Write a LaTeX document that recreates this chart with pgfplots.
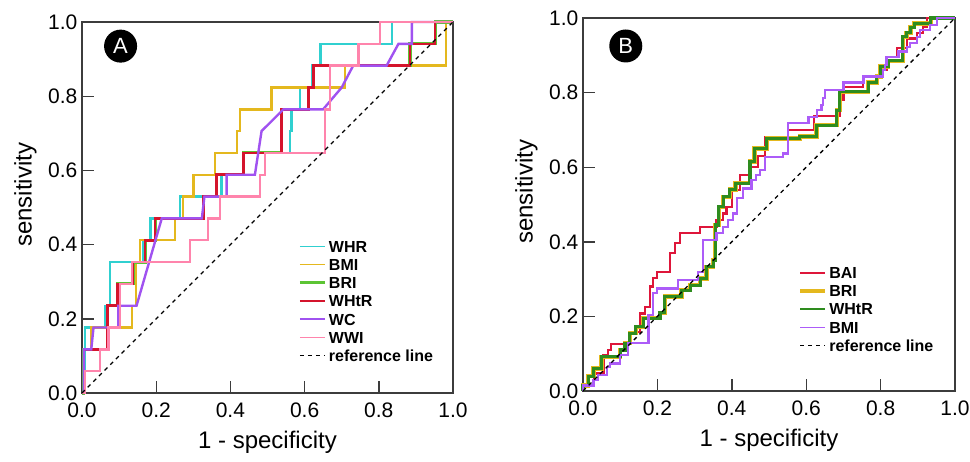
\documentclass[border=0pt]{standalone}
\usepackage{fontspec}
\setmainfont{Liberation Sans}
\usepackage{pgfplots}
\pgfplotsset{compat=1.18}

\definecolor{cWHR}{RGB}{48,208,208}
\definecolor{cBMI}{RGB}{228,184,30}
\definecolor{cBRI}{RGB}{92,196,52}
\definecolor{cWHtR}{RGB}{212,20,44}
\definecolor{cWC}{RGB}{160,82,240}
\definecolor{cWWI}{RGB}{255,132,172}
\definecolor{bBAI}{RGB}{222,22,58}
\definecolor{bBRI}{RGB}{228,184,30}
\definecolor{bWHtR}{RGB}{46,140,30}
\definecolor{bBMI}{RGB}{172,92,248}
\definecolor{frame}{RGB}{60,60,60}

\pgfplotsset{
  rocaxis/.style={
    scale only axis, xmin=0, xmax=1, ymin=0, ymax=1,
    clip=false,
    axis line style={draw=frame, line width=1.4pt},
    xtick={0,0.2,0.4,0.6,0.8,1}, ytick={0,0.2,0.4,0.6,0.8,1},
    xticklabels={0.0,0.2,0.4,0.6,0.8,1.0},
    yticklabels={0.0,0.2,0.4,0.6,0.8,1.0},
    tick align=inside, xtick pos=bottom, ytick pos=left,
    major tick length=12pt,
    every tick/.style={draw=frame, line width=1.4pt},
    tick label style={font=\fontsize{21}{25}\selectfont},
    xticklabel style={anchor=north, inner sep=0pt, yshift=-10pt},
    yticklabel style={anchor=east, inner sep=0pt, xshift=-4.5pt},
    xlabel={1 - specificity}, ylabel={sensitivity},
    label style={font=\fontsize{24}{28}\selectfont},
    xlabel style={at={(axis description cs:0.5,-0.149)}, anchor=base},
    ylabel style={at={(axis description cs:-0.1356,0.534)}, anchor=base},
    legend cell align=left,
    legend image code/.code={\draw[##1] (0pt,0pt) -- (25pt,0pt);},
    every legend image post/.style={line width=1.6pt},
    legend style={draw=none, fill=none, inner sep=0pt, row sep=0pt,
      column sep=2pt, font=\fontsize{16}{18}\bfseries\selectfont,
      nodes={inner xsep=0.5pt, inner ysep=3.3pt, text height=11.6pt, text depth=0pt}},
  },
  refline/.style={black, line width=1.3pt, dash pattern=on 4pt off 4pt},
  roc/.style={line width=2.4pt, line join=miter},
}

\begin{document}
\begin{tikzpicture}
\useasboundingbox (0pt,0pt) rectangle (970pt,-461pt);

% ---------------- panel A ----------------
\begin{axis}[rocaxis,
  at={(82pt,-393pt)}, anchor=south west, width=371pt, height=371pt,
  legend style={at={(axis cs:0.583,0.42)}, anchor=north west},
]
% WHR
\addplot[roc, cWHR] coordinates {
 (0,0) (0.008,0) (0.008,0.1765) (0.062,0.1765) (0.062,0.2353) (0.075,0.2353)
 (0.075,0.3529) (0.165,0.3529) (0.165,0.4118) (0.185,0.4118) (0.185,0.4706)
 (0.264,0.4706) (0.264,0.5294) (0.376,0.5294) (0.376,0.5882) (0.435,0.5882)
 (0.435,0.6471) (0.56,0.6471) (0.56,0.7059) (0.565,0.7059) (0.565,0.7647)
 (0.588,0.7647) (0.588,0.8235) (0.62,0.8235) (0.62,0.8824) (0.643,0.8824)
 (0.643,0.9412) (0.835,0.9412) (0.835,1) (1,1)};
% BMI
\addplot[roc, cBMI] coordinates {
 (0,0) (0.005,0) (0.005,0.1176) (0.025,0.1176) (0.025,0.1765) (0.134,0.1765)
 (0.134,0.2353) (0.145,0.2353) (0.145,0.3529) (0.156,0.3529) (0.156,0.4118)
 (0.25,0.4118) (0.25,0.4706) (0.273,0.4706) (0.273,0.5294) (0.30,0.5294)
 (0.30,0.5882) (0.358,0.5882) (0.358,0.6471) (0.417,0.6471) (0.417,0.7059)
 (0.426,0.7059) (0.426,0.7647) (0.511,0.7647) (0.511,0.8235) (0.709,0.8235)
 (0.709,0.8824) (0.981,0.8824) (0.981,1) (1,1)};
% BRI
\addplot[roc, cBRI, line width=3.1pt, legend image post style={line width=3pt}] coordinates {
 (0,0) (0.005,0) (0.005,0.1176) (0.068,0.1176) (0.068,0.2353) (0.095,0.2353)
 (0.095,0.2941) (0.138,0.2941) (0.138,0.3529) (0.17,0.3529) (0.17,0.4118)
 (0.197,0.4118) (0.197,0.4706) (0.327,0.4706) (0.327,0.5294) (0.363,0.5294)
 (0.363,0.5882) (0.435,0.5882) (0.435,0.6471) (0.538,0.6471) (0.538,0.7647)
 (0.61,0.7647) (0.61,0.8235) (0.624,0.8235) (0.624,0.8824) (0.884,0.8824)
 (0.884,0.9412) (0.952,0.9412) (0.952,1) (1,1)};
% WHtR
\addplot[roc, cWHtR, line width=2.6pt] coordinates {
 (0,0) (0.005,0) (0.005,0.1176) (0.068,0.1176) (0.068,0.2353) (0.095,0.2353)
 (0.095,0.2941) (0.138,0.2941) (0.138,0.3529) (0.17,0.3529) (0.17,0.4118)
 (0.197,0.4118) (0.197,0.4706) (0.327,0.4706) (0.327,0.5294) (0.363,0.5294)
 (0.363,0.5882) (0.435,0.5882) (0.435,0.6471) (0.538,0.6471) (0.538,0.7647)
 (0.61,0.7647) (0.61,0.8235) (0.624,0.8235) (0.624,0.8824) (0.884,0.8824)
 (0.884,0.9412) (0.952,0.9412) (0.952,1) (1,1)};
% WC
\addplot[roc, cWC] coordinates {
 (0,0) (0.005,0) (0.005,0.1176) (0.025,0.1176) (0.031,0.1765) (0.098,0.1765)
 (0.098,0.2353) (0.147,0.2353) (0.215,0.4706) (0.323,0.4706) (0.33,0.5294)
 (0.39,0.5294) (0.39,0.5882) (0.466,0.5882) (0.484,0.7059) (0.543,0.7647)
 (0.65,0.7647) (0.70,0.8235) (0.731,0.8824) (0.821,0.8824) (0.853,0.9412)
 (0.889,0.9412) (0.889,1) (1,1)};
% WWI
\addplot[roc, cWWI] coordinates {
 (0,0) (0.008,0) (0.008,0.0588) (0.0485,0.0588) (0.0485,0.1176) (0.071,0.1176)
 (0.071,0.1765) (0.102,0.1765) (0.102,0.2941) (0.134,0.2941) (0.134,0.3529)
 (0.291,0.3529) (0.291,0.4118) (0.34,0.4118) (0.34,0.4706) (0.372,0.4706)
 (0.372,0.5294) (0.48,0.5294) (0.48,0.5882) (0.494,0.5882) (0.494,0.6471)
 (0.655,0.6471) (0.655,0.7647) (0.668,0.7647) (0.668,0.8824) (0.745,0.8824)
 (0.745,0.9412) (0.803,0.9412) (0.803,1) (1,1)};
\addplot[refline, legend image post style={line width=1.3pt}] coordinates {(0,0) (1,1)};
\legend{WHR,BMI,BRI,WHtR,WC,WWI,reference line}
\node[circle, fill=black, minimum size=33pt, inner sep=0pt, text=white,
  font=\fontsize{22}{26}\selectfont] at (axis cs:0.104,0.935) {A};
\end{axis}

% ---------------- panel B ----------------
\begin{axis}[rocaxis,
  at={(583pt,-391pt)}, anchor=south west, width=372pt, height=373pt,
  xlabel style={at={(axis description cs:0.5,-0.1475)}},
  legend style={at={(axis cs:0.578,0.342)}, anchor=north west},
]
% BAI
\addplot[roc, bBAI, line width=2.2pt] coordinates {
 (0,0) (0,0.015) (0.03,0.015) (0.03,0.047) (0.055,0.047) (0.055,0.097)
 (0.068,0.097) (0.068,0.11) (0.075,0.11) (0.075,0.126) (0.126,0.126)
 (0.126,0.159) (0.153,0.159) (0.153,0.208) (0.167,0.208) (0.167,0.226)
 (0.18,0.226) (0.18,0.28) (0.189,0.28) (0.189,0.302) (0.198,0.302) (0.198,0.32)
 (0.234,0.32) (0.234,0.369) (0.247,0.369) (0.247,0.396) (0.261,0.396)
 (0.261,0.423) (0.315,0.423) (0.315,0.44) (0.359,0.44) (0.359,0.458)
 (0.377,0.458) (0.377,0.476) (0.386,0.476) (0.386,0.494) (0.4,0.494)
 (0.4,0.539) (0.422,0.539) (0.422,0.579) (0.449,0.579) (0.449,0.6) (0.47,0.6)
 (0.47,0.63) (0.49,0.63) (0.49,0.68) (0.55,0.68) (0.55,0.70) (0.62,0.70)
 (0.62,0.737) (0.69,0.737) (0.69,0.78) (0.70,0.78) (0.70,0.815) (0.753,0.815)
 (0.753,0.843) (0.805,0.843) (0.805,0.86) (0.816,0.86) (0.816,0.896)
 (0.843,0.896) (0.843,0.919) (0.87,0.919) (0.87,0.945) (0.897,0.945)
 (0.897,0.959) (0.915,0.959) (0.915,0.975) (0.924,0.975) (0.924,1) (1,1)};
% BRI
\addplot[roc, bBRI, line width=4.3pt, legend image post style={line width=3.6pt}] coordinates {
 (0,0) (0,0.015) (0.014,0.015) (0.014,0.04) (0.028,0.04) (0.028,0.06)
 (0.05,0.06) (0.05,0.092) (0.1,0.092) (0.1,0.11) (0.113,0.11) (0.113,0.128)
 (0.126,0.128) (0.126,0.155) (0.142,0.155) (0.142,0.172) (0.162,0.172)
 (0.162,0.195) (0.207,0.195) (0.207,0.21) (0.22,0.21) (0.22,0.253)
 (0.265,0.253) (0.265,0.27) (0.288,0.27) (0.288,0.284) (0.315,0.284)
 (0.315,0.302) (0.332,0.302) (0.332,0.333) (0.35,0.333) (0.35,0.351)
 (0.355,0.351) (0.355,0.445) (0.365,0.445) (0.365,0.494) (0.377,0.494)
 (0.377,0.521) (0.395,0.521) (0.395,0.54) (0.41,0.54) (0.41,0.557)
 (0.449,0.557) (0.449,0.615) (0.461,0.615) (0.461,0.65) (0.494,0.65)
 (0.494,0.677) (0.583,0.677) (0.583,0.682) (0.628,0.682) (0.628,0.713)
 (0.682,0.713) (0.682,0.753) (0.69,0.753) (0.69,0.802) (0.767,0.802)
 (0.767,0.827) (0.79,0.827) (0.79,0.843) (0.80,0.843) (0.80,0.87) (0.82,0.87)
 (0.82,0.885) (0.86,0.885) (0.86,0.95) (0.87,0.95) (0.87,0.96) (0.88,0.96)
 (0.88,0.975) (0.89,0.975) (0.89,0.985) (0.935,0.985) (0.935,1) (1,1)};
% WHtR
\addplot[roc, bWHtR, line width=3.1pt, legend image post style={line width=2.4pt}] coordinates {
 (0,0) (0,0.015) (0.014,0.015) (0.014,0.04) (0.028,0.04) (0.028,0.06)
 (0.05,0.06) (0.05,0.092) (0.1,0.092) (0.1,0.11) (0.113,0.11) (0.113,0.128)
 (0.126,0.128) (0.126,0.155) (0.142,0.155) (0.142,0.172) (0.162,0.172)
 (0.162,0.195) (0.207,0.195) (0.207,0.21) (0.22,0.21) (0.22,0.253)
 (0.265,0.253) (0.265,0.27) (0.288,0.27) (0.288,0.284) (0.315,0.284)
 (0.315,0.302) (0.332,0.302) (0.332,0.333) (0.35,0.333) (0.35,0.351)
 (0.355,0.351) (0.355,0.445) (0.365,0.445) (0.365,0.494) (0.377,0.494)
 (0.377,0.521) (0.395,0.521) (0.395,0.54) (0.41,0.54) (0.41,0.557)
 (0.449,0.557) (0.449,0.615) (0.461,0.615) (0.461,0.65) (0.494,0.65)
 (0.494,0.677) (0.583,0.677) (0.583,0.682) (0.628,0.682) (0.628,0.713)
 (0.682,0.713) (0.682,0.753) (0.69,0.753) (0.69,0.802) (0.767,0.802)
 (0.767,0.827) (0.79,0.827) (0.79,0.843) (0.80,0.843) (0.80,0.87) (0.82,0.87)
 (0.82,0.885) (0.86,0.885) (0.86,0.95) (0.87,0.95) (0.87,0.96) (0.88,0.96)
 (0.88,0.975) (0.89,0.975) (0.89,0.985) (0.935,0.985) (0.935,1) (1,1)};
% BMI
\addplot[roc, bBMI, line width=2.2pt] coordinates {
 (0,0) (0,0.015) (0.028,0.015) (0.028,0.03) (0.041,0.03) (0.041,0.043)
 (0.064,0.043) (0.064,0.065) (0.073,0.065) (0.073,0.074) (0.1,0.074)
 (0.1,0.097) (0.122,0.097) (0.122,0.128) (0.176,0.128) (0.176,0.204)
 (0.189,0.204) (0.189,0.262) (0.198,0.262) (0.198,0.275) (0.256,0.275)
 (0.256,0.298) (0.31,0.298) (0.31,0.32) (0.323,0.32) (0.323,0.405)
 (0.359,0.405) (0.359,0.423) (0.377,0.423) (0.377,0.44) (0.39,0.44)
 (0.39,0.458) (0.404,0.458) (0.404,0.476) (0.413,0.476) (0.413,0.517)
 (0.431,0.517) (0.431,0.543) (0.453,0.543) (0.453,0.566) (0.465,0.566)
 (0.465,0.579) (0.476,0.579) (0.476,0.592) (0.49,0.592) (0.49,0.628)
 (0.537,0.628) (0.537,0.637) (0.55,0.637) (0.55,0.718) (0.606,0.718)
 (0.606,0.735) (0.628,0.735) (0.628,0.753) (0.641,0.753) (0.641,0.767)
 (0.645,0.767) (0.645,0.785) (0.65,0.785) (0.65,0.807) (0.7,0.807)
 (0.7,0.827) (0.754,0.827) (0.754,0.843) (0.807,0.843) (0.807,0.861)
 (0.812,0.861) (0.812,0.874) (0.816,0.874) (0.816,0.896) (0.848,0.896)
 (0.848,0.91) (0.87,0.91) (0.87,0.922) (0.879,0.922) (0.879,0.932)
 (0.897,0.932) (0.897,0.95) (0.905,0.95) (0.905,0.968) (0.933,0.968)
 (0.933,0.981) (0.951,0.981) (0.951,1) (1,1)};
\addplot[refline, legend image post style={line width=1.3pt}] coordinates {(0,0) (1,1)};
\legend{BAI,BRI,WHtR,BMI,reference line}
\node[circle, fill=black, minimum size=33pt, inner sep=0pt, text=white,
  font=\fontsize{22}{26}\selectfont] at (axis cs:0.115,0.925) {B};
\end{axis}
\end{tikzpicture}
\end{document}
